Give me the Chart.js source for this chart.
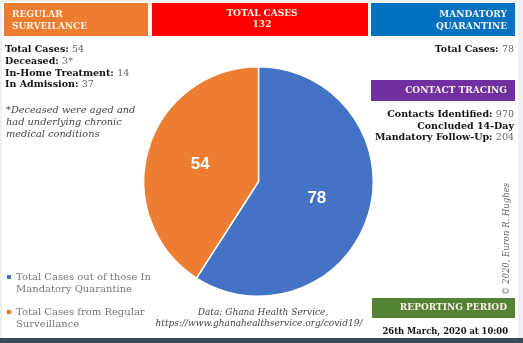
<!DOCTYPE html>
<html>
<head>
<meta charset="utf-8">
<script src="https://cdn.jsdelivr.net/npm/chart.js@4"></script>
<style>
  html, body { margin: 0; padding: 0; background: #fff; }
  #wrap { width: 523px; height: 343px; position: relative; }
</style>
</head>
<body>
<div id="wrap"><canvas id="pieChart" width="523" height="343"></canvas></div>
<script>
// chart data
const sliceLabels = [
  "Total Cases out of those In Mandatory Quarantine",
  "Total Cases from Regular Surveillance",
];
const sliceValues = [78, 54];

const surveillanceLabels = ["Total Cases", "Deceased", "In-Home Treatment", "In Admission"];
const surveillanceValues = ["54", "3*", "14", "37"];

const quarantineLabels = ["Total Cases"];
const quarantineValues = ["78"];

const tracingLabels = ["Contacts Identified", "Concluded 14-Day", "Mandatory Follow-Up"];
const tracingValues = ["970", "", "204"];

const noteLines = ["*Deceased were aged and", "had underlying chronic", "medical conditions"];
const reportDate = "26th March, 2020 at 10:00";

const orange = "#ED7D31";
const blue = "#4472C4";
const serif = "'DejaVu Serif', serif";

function bar(ctx, x, y, w, h, color) {
  ctx.fillStyle = color;
  ctx.fillRect(x, y, w, h);
}

function text(ctx, str, x, y, font, color, align) {
  ctx.font = font;
  ctx.fillStyle = color;
  ctx.textAlign = align || "left";
  ctx.textBaseline = "middle";
  ctx.fillText(str, x, y);
}

// "Label: value" with bold label and lighter value
function pair(ctx, label, value, x, y, align) {
  const bFont = "bold 9.5px " + serif;
  const vFont = "9.5px " + serif;
  ctx.font = bFont;
  const lw = ctx.measureText(label + (value ? ": " : "")).width;
  ctx.font = vFont;
  const vw = value ? ctx.measureText(value).width : 0;
  const start = align === "right" ? x - lw - vw : x;
  text(ctx, label + (value ? ": " : ""), start, y, bFont, "#111");
  if (value) text(ctx, value, start + lw, y, vFont, "#666");
}

function wrap(ctx, str, maxW) {
  const words = str.split(" ");
  const lines = [];
  let cur = "";
  words.forEach((w) => {
    const t = cur ? cur + " " + w : w;
    if (ctx.measureText(t).width > maxW && cur) {
      lines.push(cur);
      cur = w;
    } else cur = t;
  });
  if (cur) lines.push(cur);
  return lines;
}

const infographic = {
  id: "infographic",
  beforeDraw(chart) {
    const ctx = chart.ctx;
    ctx.save();
    bar(ctx, 0, 0, 523, 343, "#eef0f3");
    bar(ctx, 2, 2, 516, 336, "#ffffff");
    bar(ctx, 0, 338, 523, 5, "#3d4a57");
    ctx.restore();
  },
  afterDatasetsDraw(chart) {
    const ctx = chart.ctx;
    const meta = chart.getDatasetMeta(0);
    ctx.save();
    meta.data.forEach((arc, i) => {
      const p = arc.getProps(["x", "y", "startAngle", "endAngle", "outerRadius"], true);
      const mid = (p.startAngle + p.endAngle) / 2;
      const r = p.outerRadius * 0.53;
      text(ctx, String(sliceValues[i]), p.x + Math.cos(mid) * r, p.y + Math.sin(mid) * r,
        "bold 17px 'Liberation Sans', sans-serif", "#ffffff", "center");
    });
    ctx.restore();
  },
  afterDraw(chart) {
    const ctx = chart.ctx;
    const hdr = "bold 9px " + serif;
    const hdrCol = "#fbf3e8";
    const total = sliceValues.reduce((a, b) => a + b, 0);
    ctx.save();

    // header bars
    bar(ctx, 4, 3, 144, 33, orange);
    text(ctx, "REGULAR", 12, 15, hdr, hdrCol);
    text(ctx, "SURVEILANCE", 12, 27, hdr, hdrCol);

    bar(ctx, 152, 3, 216, 33, "#FF0000");
    text(ctx, "TOTAL CASES", 262, 14, hdr, hdrCol, "center");
    text(ctx, String(total), 262, 25, hdr, hdrCol, "center");

    bar(ctx, 371, 3, 144, 33, "#0070C0");
    text(ctx, "MANDATORY", 507, 15, hdr, hdrCol, "right");
    text(ctx, "QUARANTINE", 507, 27, hdr, hdrCol, "right");

    // left column
    const ly = [50, 62, 74, 85];
    surveillanceLabels.forEach((l, i) => pair(ctx, l, surveillanceValues[i], 5, ly[i]));
    noteLines.forEach((l, i) => text(ctx, l, 6, 110 + i * 12.3, "italic 9.8px " + serif, "#444"));

    // right column
    quarantineLabels.forEach((l, i) => pair(ctx, l, quarantineValues[i], 514, 50, "right"));
    bar(ctx, 371, 80, 144, 21, "#7030A0");
    text(ctx, "CONTACT TRACING", 507, 91, hdr, hdrCol, "right");
    const ty = [115, 127, 138];
    tracingLabels.forEach((l, i) => pair(ctx, l, tracingValues[i], 514, ty[i], "right"));

    bar(ctx, 372, 298, 143, 20, "#548235");
    text(ctx, "REPORTING PERIOD", 507, 308, hdr, hdrCol, "right");
    text(ctx, reportDate, 508, 332, "bold 8.4px " + serif, "#111", "right");

    // legend
    const colors = chart.data.datasets[0].backgroundColor;
    const legFont = "10px " + serif;
    const legY = [277, 312];
    sliceLabels.forEach((l, i) => {
      ctx.font = legFont;
      const lines = wrap(ctx, l, 150);
      bar(ctx, 7, legY[i] - 2, 4, 4, colors[i]);
      lines.forEach((s, j) => text(ctx, s, 16, legY[i] + j * 12, legFont, "#777"));
    });

    // source
    text(ctx, "Data: Ghana Health Service,", 263, 313, "italic 9px " + serif, "#444", "center");
    text(ctx, "https://www.ghanahealthservice.org/covid19/", 259, 324, "italic 9px " + serif, "#444", "center");

    // copyright, vertical
    ctx.translate(507, 239);
    ctx.rotate(-Math.PI / 2);
    text(ctx, "\u00A9 2020, Euron R. Hughes", 0, 0, "italic 8.5px " + serif, "#666", "center");
    ctx.restore();
  },
};

new Chart(document.getElementById("pieChart"), {
  type: "pie",
  data: {
    labels: sliceLabels,
    datasets: [
      {
        data: sliceValues,
        backgroundColor: [blue, orange],
        borderColor: "#ffffff",
        borderWidth: 1.5,
      },
    ],
  },
  options: {
    responsive: false,
    animation: false,
    layout: { padding: { left: 143, right: 149, top: 66, bottom: 46 } },
    plugins: {
      legend: { display: false },
      tooltip: { enabled: false },
    },
  },
  plugins: [infographic],
});
</script>
</body>
</html>
